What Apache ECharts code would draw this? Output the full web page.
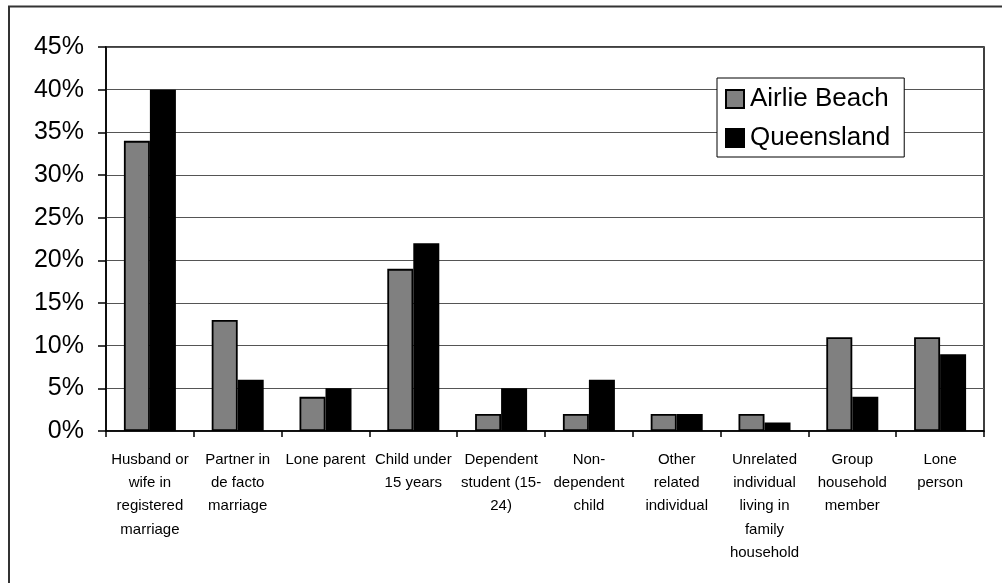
<!DOCTYPE html>
<html>
<head>
<meta charset="utf-8">
<script src="https://cdn.jsdelivr.net/npm/echarts@6/dist/echarts.min.js"></script>
<style>
  html, body { margin: 0; padding: 0; background: #fff; }
  #chart { width: 1002px; height: 583px; }
</style>
</head>
<body>
<div id="chart"></div>
<script>
// Household relationship categories (line breaks as shown under the axis)
const categories = [
  'Husband or\nwife in\nregistered\nmarriage',
  'Partner in\nde facto\nmarriage',
  'Lone parent',
  'Child under\n15 years',
  'Dependent\nstudent (15-\n24)',
  'Non-\ndependent\nchild',
  'Other\nrelated\nindividual',
  'Unrelated\nindividual\nliving in\nfamily\nhousehold',
  'Group\nhousehold\nmember',
  'Lone\nperson'
];

// Share of persons, in percent
const airlieBeach = [34, 13, 4, 19, 2, 2, 2, 2, 11, 11];
const queensland  = [40, 6, 5, 22, 5, 6, 2, 1, 4, 9];

// Value axis tick settings (percent)
const yMin = 0;
const yMax = 45;
const yStep = 5;

const FONT = '"Liberation Sans", Arial, sans-serif';

const chart = echarts.init(document.getElementById('chart'), null, { renderer: 'canvas' });

chart.setOption({
  animation: false,
  backgroundColor: '#fff',
  textStyle: { fontFamily: FONT },
  graphic: [{
    type: 'rect',
    shape: { x: 9, y: 6.5, width: 1200, height: 800 },
    style: { fill: 'none', stroke: '#333', lineWidth: 2 },
    silent: true,
    z: -10
  }],
  grid: {
    left: 106,
    right: 18,
    top: 47,
    bottom: 152,
    show: true,
    borderColor: '#000',
    borderWidth: 1.5,
    backgroundColor: 'transparent'
  },
  legend: {
    orient: 'vertical',
    left: 717,
    top: 78,
    padding: [6, 14, 4, 8],
    itemWidth: 18,
    itemHeight: 18,
    itemGap: 9,
    icon: 'rect',
    borderColor: '#000',
    borderWidth: 1,
    backgroundColor: '#fff',
    textStyle: { fontFamily: FONT, fontSize: 26, color: '#000', lineHeight: 30, padding: [0, 0, 0, 1] },
    data: ['Airlie Beach', 'Queensland']
  },
  xAxis: {
    type: 'category',
    data: categories,
    axisLine: { lineStyle: { color: '#000', width: 1.5 } },
    axisTick: { show: true, length: 6, lineStyle: { color: '#000', width: 1.5 } },
    axisLabel: {
      interval: 0,
      margin: 17,
      fontFamily: FONT,
      fontSize: 15,
      lineHeight: 23.3,
      color: '#000',
      align: 'center'
    },
    splitLine: { show: false }
  },
  yAxis: {
    type: 'value',
    min: yMin,
    max: yMax,
    interval: yStep,
    axisLine: { show: true, lineStyle: { color: '#000', width: 1.5 } },
    axisTick: { show: true, length: 8, lineStyle: { color: '#000', width: 1.5 } },
    axisLabel: {
      formatter: '{value}%',
      margin: 22,
      fontFamily: FONT,
      fontSize: 25,
      color: '#000'
    },
    splitLine: { show: true, lineStyle: { color: '#555', width: 1 } }
  },
  series: [
    {
      name: 'Airlie Beach',
      type: 'bar',
      data: airlieBeach,
      barWidth: 26,
      barGap: '0%',
      itemStyle: { color: '#808080', borderColor: '#000', borderWidth: 1.8 }
    },
    {
      name: 'Queensland',
      type: 'bar',
      data: queensland,
      barWidth: 26,
      barGap: '0%',
      itemStyle: { color: '#000', borderColor: '#000', borderWidth: 1.8 }
    }
  ]
});
</script>
</body>
</html>
